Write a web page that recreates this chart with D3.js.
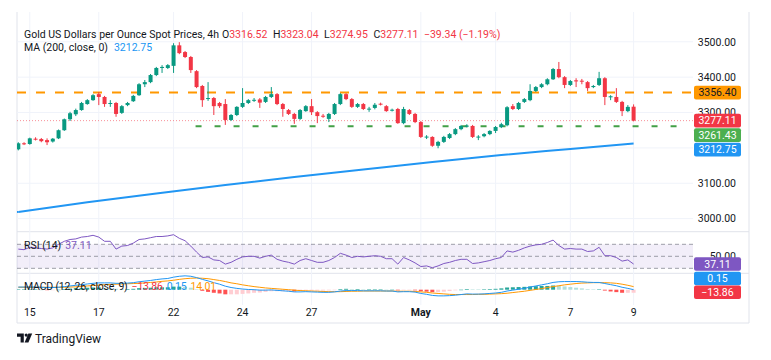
<!DOCTYPE html>
<html><head><meta charset="utf-8">
<script src="https://cdn.jsdelivr.net/npm/d3@7"></script>
<style>body{margin:0;background:#fff;} svg{display:block;font-family:Roboto,"Noto Sans",sans-serif;}</style>
</head><body><svg id="c" width="771" height="360"></svg>
<script>
// ---------- data ----------
const opens  = [3196,3213,3211,3226,3225,3222,3218,3227,3250,3281,3295,3307,3324,3335,3352,3344,3325,3327,3299,3321,
                3332,3349,3380,3386,3406,3426,3426,3432,3490,3471,3457,3417,3375,3339,3341,3327,3324,3279,3293,3316,
                3327,3334,3337,3330,3344,3352,3324,3307,3296,3282,3304,3318,3301,3291,3282,3296,3324,3352,3338,3316,
                3324,3309,3313,3325,3318,3306,3310,3270,3307,3296,3273,3230,3231,3206,3217,3228,3239,3253,3261,3262,
                3230,3233,3239,3248,3259,3264,3318,3310,3330,3335,3361,3372,3380,3394,3423,3400,3378,3391,3390,3386,
                3372,3378,3397,3343,3344,3330,3304,3316.52];
const highs  = [3216,3216,3229,3230,3228,3227,3228,3252,3283,3302,3311,3330,3338,3352,3358,3347,3335,3330,3321,3330,
                3350,3383,3392,3409,3429,3434,3437,3496,3499,3474,3460,3420,3378,3386,3344,3330,3338,3296,3318,3369,
                3338,3341,3341,3347,3372,3355,3327,3310,3299,3310,3321,3338,3304,3296,3299,3327,3355,3355,3341,3327,
                3327,3316,3327,3328,3321,3311,3313,3316,3310,3299,3276,3236,3233,3220,3234,3242,3256,3265,3267,3265,
                3236,3242,3250,3262,3271,3318,3324,3330,3341,3380,3375,3383,3397,3426,3443,3403,3392,3397,3395,3389,
                3378,3415,3400,3349,3369,3333,3321,3323.04];
const lows   = [3193,3208,3209,3221,3216,3208,3215,3225,3248,3276,3290,3305,3322,3333,3321,3316,3316,3288,3296,3318,
                3330,3347,3372,3383,3403,3412,3423,3412,3465,3454,3412,3369,3316,3333,3293,3313,3265,3276,3290,3313,
                3324,3330,3313,3327,3341,3321,3288,3293,3268,3279,3302,3293,3270,3285,3273,3293,3321,3335,3313,3313,
                3307,3302,3309,3320,3302,3303,3268,3267,3293,3270,3228,3225,3203,3199,3214,3225,3236,3250,3258,3228,
                3222,3230,3236,3242,3256,3261,3307,3307,3327,3332,3358,3369,3377,3392,3397,3369,3375,3372,3380,3361,
                3369,3375,3321,3335,3327,3290,3301,3274.95];
const closes = [3213,3211,3227,3224,3219,3216,3226,3250,3281,3298,3307,3327,3335,3349,3344,3324,3327,3296,3318,3327,
                3347,3380,3386,3406,3426,3429,3434,3490,3468,3457,3420,3372,3335,3341,3318,3318,3279,3293,3316,3327,
                3335,3336,3328,3344,3352,3324,3310,3296,3282,3307,3318,3301,3290,3289,3296,3324,3352,3338,3316,3324,
                3310,3311,3322,3323,3304,3308,3270,3310,3296,3273,3231,3232,3206,3217,3231,3239,3253,3262,3263,3231,
                3232,3239,3248,3259,3267,3315,3310,3327,3338,3361,3372,3380,3394,3423,3400,3378,3389,3388,3388,3369,
                3375,3397,3344,3346,3330,3304,3316,3277.11];
const maIndex  = [0,12,24,36,48,60,72,84,96,107];
const maValues = [3019,3046,3071,3095,3118,3139,3160,3180,3197,3212.75];
const rsiValues = [62,61,65,64,63,62,64,70,75,78, 79,82,83,85,82,75,75,62,67,68,
                   72,78,79,81,83,83,84,86,80,76, 67,57,48,49,44,43,37,40,45,49,
                   50,50,47,50,52,45,42,40,37,43, 46,43,40,40,43,48,55,52,48,50,
                   49,50,51,50,46,46,37,48,44,39, 33,34,31,34,38,40,43,45,45,38,
                   39,41,43,46,48,59,57,60,64,67, 69,70,73,77,68,62,63,62,62,58,
                   59,65,51,51,48,42,44,37.11];
const macdValues = [12,12,12,12,11,10,10, 11,14,17,20,23,26,29, 31,31,31,29,29,30,32, 36,39,42,46,49,51,57,
                    61,63,61,55,47,40,32, 25,16,10,6,3,1,0, -2,-2,-1,-3,-5,-7,-10, -10,-9,-10,-11,-12,-12,-10,
                    -6,-4,-4,-4,-5,-5,-5, -5,-6,-6,-10,-9,-9,-11, -17,-21,-26,-28,-28,-27,-25, -22,-19,-20,-20,-19,-17,-15,
                    -12,-6,-2,2,6,12,17, 22,27,33,36,37,37,37, 36,34,33,33,28,23,18, 11,6,0.15];
const signalValues = [11,11,11,11,11,11,11, 11,11,12,13,15,17,19, 21,23,24,25,26,27,28, 29,31,33,35,38,40,43,
                      47,50,52,53,52,50,46, 42,37,31,27,22,18,14, 11,8,6,4,2,0,-2, -4,-5,-6,-7,-8,-9,-9,
                      -9,-8,-7,-7,-6,-6,-6, -6,-6,-6,-7,-7,-7,-8, -10,-12,-15,-17,-19,-21,-22, -22,-22,-22,-21,-21,-20,-19,
                      -18,-16,-13,-10,-7,-3,1, 5,10,14,18,22,25,28, 30,31,32,32,32,31,29, 25,20,14.01];
const tickIndex  = [2,14,27,39,51,70,83,96,107];
const tickLabels = ["15","17","22","24","27","May","4","7","9"];
const priceTicks = [3000,3100,3200,3300,3400,3500];
const resistance = 3356.40, support = 3261.43, supportStart = 31;
const lastOpen = 3316.52, lastHigh = 3323.04, lastLow = 3274.95, lastClose = 3277.11;
const change = -39.34, changePct = -1.19;
const maLast = 3212.75, rsiLast = 37.11, macdLast = 0.15, signalLast = 14.01, histLast = -13.86;

// ---------- layout ----------
const svg = d3.select('#c');
const plotL = 17, plotR = 693, frameR = 749;
const mainTop = 12, mainBot = 231.7, rsiBot = 273.3, macdBot = 302, frameBot = 323;
const n = closes.length;
const x = d3.scaleLinear().domain([0, n - 1]).range([18.3, 633.6]);
const y = d3.scaleLinear().domain([2965, 3556]).range([231, 22]);
const yR = d3.scaleLinear().domain([22.2, 90.5]).range([273, 232]);
const yM = d3.scaleLinear().domain([-50, 70]).range([300.7, 274.3]);
const UP = '#089981', DN = '#f23645', TXT = '#131722';
const fmt = d3.format('.2f');
const minus = s => s.replace('-', '\u2212');

const defs = svg.append('defs');
defs.append('clipPath').attr('id', 'cm').append('rect').attr('x', plotL).attr('y', mainTop).attr('width', plotR - plotL).attr('height', mainBot - mainTop);
defs.append('clipPath').attr('id', 'cr').append('rect').attr('x', plotL).attr('y', mainBot).attr('width', plotR - plotL).attr('height', rsiBot - mainBot);
defs.append('clipPath').attr('id', 'cc').append('rect').attr('x', plotL).attr('y', rsiBot).attr('width', plotR - plotL).attr('height', frameBot - rsiBot);

// frame
const fr = svg.append('g').attr('stroke', '#e0e3eb').attr('fill', 'none');
fr.append('line').attr('x1', plotL).attr('x2', plotL).attr('y1', mainTop).attr('y2', frameBot);
fr.append('line').attr('x1', frameR).attr('x2', frameR).attr('y1', mainTop).attr('y2', frameBot);
fr.append('line').attr('x1', plotL).attr('x2', frameR).attr('y1', frameBot).attr('y2', frameBot);
fr.append('line').attr('x1', plotL).attr('x2', frameR).attr('y1', mainBot).attr('y2', mainBot);
fr.append('line').attr('x1', plotL).attr('x2', frameR).attr('y1', rsiBot).attr('y2', rsiBot);

// grid
const grid = svg.append('g').attr('stroke', '#f0f3fa').attr('stroke-width', 1);
grid.selectAll('line.v').data(tickIndex).join('line').attr('class', 'v')
  .attr('x1', d => x(d)).attr('x2', d => x(d)).attr('y1', mainTop).attr('y2', macdBot + 3);
grid.selectAll('line.h').data(priceTicks).join('line').attr('class', 'h')
  .attr('x1', plotL).attr('x2', plotR).attr('y1', d => y(d)).attr('y2', d => y(d));

// ---------- main pane ----------
const gm = svg.append('g').attr('clip-path', 'url(#cm)');
const idx = d3.range(n);
gm.append('line').attr('x1', plotL).attr('x2', plotR).attr('y1', y(lastClose)).attr('y2', y(lastClose))
  .attr('stroke', '#f23645').attr('stroke-opacity', 0.55).attr('stroke-dasharray', '1,2');
gm.append('line').attr('x1', plotL).attr('x2', plotR).attr('y1', y(resistance)).attr('y2', y(resistance))
  .attr('stroke', '#ff9800').attr('stroke-width', 2).attr('stroke-dasharray', '9,10');
gm.append('line').attr('x1', x(supportStart) - 1).attr('x2', plotR - 6).attr('y1', y(support)).attr('y2', y(support))
  .attr('stroke', '#43a047').attr('stroke-width', 2).attr('stroke-dasharray', '6,13');

const cg = gm.append('g');
cg.selectAll('line').data(idx).join('line')
  .attr('x1', i => x(i)).attr('x2', i => x(i)).attr('y1', i => y(highs[i])).attr('y2', i => y(lows[i]))
  .attr('stroke', i => closes[i] >= opens[i] ? UP : DN).attr('stroke-width', 1);
cg.selectAll('rect').data(idx).join('rect')
  .attr('x', i => x(i) - 2).attr('width', 4)
  .attr('y', i => y(Math.max(opens[i], closes[i])))
  .attr('height', i => Math.max(1, Math.abs(y(opens[i]) - y(closes[i]))))
  .attr('fill', i => closes[i] >= opens[i] ? UP : DN);

gm.append('path').datum(maIndex.map((d, k) => [d, maValues[k]]))
  .attr('fill', 'none').attr('stroke', '#2196f3').attr('stroke-width', 2)
  .attr('d', d3.line().x(d => x(d[0])).y(d => y(d[1])).curve(d3.curveMonotoneX));
gm.append('line').attr('x1', plotL).attr('x2', x(0)).attr('y1', y(maValues[0]) + 0.2).attr('y2', y(maValues[0]))
  .attr('stroke', '#2196f3').attr('stroke-width', 2);

// ---------- RSI pane ----------
const gr = svg.append('g').attr('clip-path', 'url(#cr)');
gr.append('rect').attr('x', plotL).attr('width', plotR - plotL).attr('y', yR(70)).attr('height', yR(30) - yR(70))
  .attr('fill', '#7e57c2').attr('fill-opacity', 0.1);
gr.selectAll('line.l').data([70, 50, 30]).join('line').attr('class', 'l')
  .attr('x1', plotL).attr('x2', plotR).attr('y1', d => yR(d)).attr('y2', d => yR(d))
  .attr('stroke', '#787b86').attr('stroke-opacity', 0.7).attr('stroke-dasharray', '4,3');
gr.append('path').datum(rsiValues).attr('fill', 'none').attr('stroke', '#7e57c2').attr('stroke-width', 1)
  .attr('d', d3.line().x((d, i) => x(i)).y(d => yR(d)));

// ---------- MACD pane ----------
const gc = svg.append('g').attr('clip-path', 'url(#cc)');
const hist = macdValues.map((m, i) => m - signalValues[i]);
gc.selectAll('rect').data(idx).join('rect')
  .attr('x', i => x(i) - 2).attr('width', 4)
  .attr('y', i => Math.min(yM(0), yM(hist[i])))
  .attr('height', i => Math.max(0.5, Math.abs(yM(hist[i]) - yM(0))))
  .attr('fill', i => {
    const h = hist[i], p = i > 0 ? hist[i - 1] : h;
    return h >= 0 ? (h >= p ? '#26a69a' : '#b2dfdb') : (h < p ? '#ff5252' : '#ffcdd2');
  });
gc.append('path').datum(signalValues).attr('fill', 'none').attr('stroke', '#ff9800').attr('stroke-width', 1)
  .attr('d', d3.line().x((d, i) => x(i)).y(d => yM(d)));
gc.append('path').datum(macdValues).attr('fill', 'none').attr('stroke', '#2196f3').attr('stroke-width', 1)
  .attr('d', d3.line().x((d, i) => x(i)).y(d => yM(d)));

// ---------- x axis labels ----------
svg.append('g').selectAll('text').data(tickIndex).join('text')
  .attr('x', d => x(d)).attr('y', 315.5).attr('text-anchor', 'middle')
  .attr('font-size', 10.5).attr('fill', TXT)
  .attr('font-weight', (d, k) => tickLabels[k] === 'May' ? 700 : 400)
  .text((d, k) => tickLabels[k]);

// ---------- badges (positions first, so covered labels can be skipped) ----------
const mb = [
  {v: resistance, bg: '#ff9800', fg: TXT},
  {v: lastClose, bg: '#f23645', fg: '#fff'},
  {v: support, bg: '#4caf50', fg: '#fff'},
  {v: maLast, bg: '#2196f3', fg: '#fff'}
].map(d => ({...d, yc: y(d.v)})).sort((a, b) => a.yc - b.yc);
for (let k = 1; k < mb.length; k++) mb[k].yc = Math.max(mb[k].yc, mb[k - 1].yc + 14.5);

// ---------- price axis ----------
const ax = svg.append('g').attr('font-size', 10.5).attr('fill', TXT).attr('text-anchor', 'end');
ax.selectAll('text').data(priceTicks.filter(p => !mb.some(b => Math.abs(b.yc - y(p)) < 4))).join('text')
  .attr('x', 736).attr('y', d => y(d)).attr('dy', '0.36em').text(d => fmt(d));
ax.append('text').attr('x', 736).attr('y', yR(50)).attr('dy', '0.36em').text(fmt(50));

function badge(yc, label, bg, fg, w) {
  const g = svg.append('g');
  g.append('rect').attr('x', 694).attr('y', yc - 6.8).attr('width', w || 47).attr('height', 13.6).attr('rx', 2).attr('fill', bg);
  g.append('text').attr('x', 694 + (w || 47) / 2).attr('y', yc).attr('dy', '0.36em').attr('text-anchor', 'middle')
    .attr('font-size', 10.5).attr('fill', fg).text(label);
}
mb.forEach(d => badge(d.yc, fmt(d.v), d.bg, d.fg));
badge(yR(rsiLast), fmt(rsiLast), '#7e57c2', '#fff');
const yH = yM(histLast) - 0.5;
badge(Math.min(yM(macdLast), yH - 13.8), fmt(macdLast), '#2196f3', '#fff');
badge(yH, minus(fmt(histLast)), '#f23645', '#fff');

// ---------- legends ----------
const lg = svg.append('g').attr('font-size', 10.5).attr('fill', TXT);
const t1 = lg.append('text').attr('x', 24).attr('y', 37.5);
t1.append('tspan').text('Gold US Dollars per Ounce Spot Prices, 4h');
[['O', lastOpen], ['H', lastHigh], ['L', lastLow], ['C', lastClose]].forEach(([k, v], j) => {
  t1.append('tspan').attr('dx', j === 0 ? 3 : 5.5).text(k);
  t1.append('tspan').attr('fill', '#f23645').text(fmt(v));
});
t1.append('tspan').attr('dx', 5.5).attr('fill', '#f23645')
  .text(minus(fmt(change)) + ' (' + minus(fmt(changePct)) + '%)');
const t2 = lg.append('text').attr('x', 24).attr('y', 50.7);
t2.append('tspan').text('MA (200, close, 0)');
t2.append('tspan').attr('dx', 6).attr('fill', '#2196f3').text(fmt(maLast));
const t3 = lg.append('text').attr('x', 24).attr('y', 248.5);
t3.append('tspan').text('RSI (14)');
t3.append('tspan').attr('dx', 4).attr('fill', '#7e57c2').text(fmt(rsiLast));
const t4 = lg.append('text').attr('x', 24).attr('y', 290.2).attr('letter-spacing', -0.2);
t4.append('tspan').text('MACD (12, 26, close, 9)');
t4.append('tspan').attr('dx', 4).attr('fill', '#f23645').text(minus(fmt(histLast)));
t4.append('tspan').attr('dx', 4).attr('fill', '#2196f3').text(fmt(macdLast));
t4.append('tspan').attr('dx', 4).attr('fill', '#ff9800').text(fmt(signalLast));

// ---------- logo ----------
const logo = svg.append('g').attr('transform', 'translate(17,333.5)').attr('fill', TXT);
logo.append('path').attr('d', 'M0 0H6.8V9H3.6V3.2H0Z');
logo.append('circle').attr('cx', 9.2).attr('cy', 1.6).attr('r', 1.6);
logo.append('path').attr('d', 'M11.4 0H15.2L11.4 9H7.6Z');
svg.append('text').attr('x', 35).attr('y', 342.5).attr('font-size', 12).attr('fill', TXT).text('TradingView');
</script></body></html>
